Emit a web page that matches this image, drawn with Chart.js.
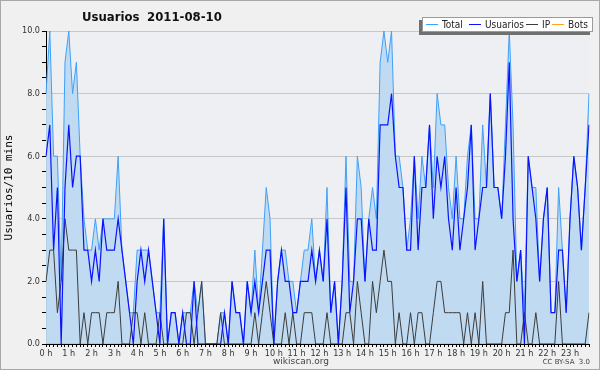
<!DOCTYPE html>
<html>
<head>
<meta charset="utf-8">
<script src="https://cdn.jsdelivr.net/npm/chart.js@4"></script>
<style>
  body { margin: 0; background: #f0f0f0; }
  #wrap { width: 600px; height: 370px; position: relative; }
</style>
</head>
<body>
<div id="wrap"><canvas id="chart" width="600" height="370"></canvas></div>
<script>
// hour labels on the x axis, one point every 10 minutes
const hourLabels = ['0 h','1 h','2 h','3 h','4 h','5 h','6 h','7 h','8 h','9 h','10 h','11 h',
  '12 h','13 h','14 h','15 h','16 h','17 h','18 h','19 h','20 h','21 h','22 h','23 h'];
const slotMinutes = ['00','10','20','30','40','50'];

const totalValues = [
  8,10,6,6,2,9, 10,8,9,6,4,3, 3,4,3,4,4,4, 4,6,3,2,1,1,
  3,3,3,3,2,1, 1,4,0,1,1,0, 1,1,1,2,1,2, 0,0,0,0,1,1,
  0,2,1,1,0,2, 1,3,1,3,5,4, 0,2,3,3,2,2, 1,2,3,3,4,2,
  3,2,5,1,2,0, 2,6,2,2,6,5, 2,4,5,4,9,10, 9,10,6,6,5,3,
  4,6,4,6,5,7, 5,8,7,7,5,4, 6,4,4,6,7,4, 4,7,5,8,5,5,
  4,7,10,7,2,3, 1,6,5,5,2,4, 5,1,1,5,3,1, 4,6,5,3,5,8
];
const usuariosValues = [
  6,7,3,5,0,5, 7,5,6,6,3,3, 2,3,2,4,3,3, 3,4,3,2,1,0,
  2,3,2,3,2,1, 0,4,0,1,1,0, 1,0,0,2,0,0, 0,0,0,0,0,1,
  0,2,1,1,0,2, 1,2,1,2,3,3, 0,2,3,2,2,1, 1,2,2,2,3,2,
  3,2,4,1,2,0, 2,5,1,2,4,4, 2,4,3,3,7,7, 7,8,6,5,5,3,
  3,6,3,5,5,7, 4,6,5,6,4,3, 5,3,4,5,7,3, 4,5,5,8,5,5,
  4,6,9,4,2,3, 0,6,5,4,2,4, 5,1,1,3,3,1, 4,6,5,3,5,7
];
const ipValues = [
  2,3,3,1,2,4, 3,3,3,0,1,0, 1,1,1,0,1,1, 1,2,0,0,0,1,
  1,0,1,0,0,0, 1,0,0,0,0,0, 0,1,1,0,1,2, 0,0,0,0,1,0,
  0,0,0,0,0,0, 0,1,0,1,2,1, 0,0,0,1,0,1, 0,0,1,1,1,0,
  0,0,1,0,0,0, 0,1,1,0,2,1, 0,0,2,1,2,3, 2,2,0,1,0,0,
  1,0,1,1,0,0, 1,2,2,1,1,1, 1,1,0,1,0,1, 0,2,0,0,0,0,
  0,1,1,3,0,0, 1,0,0,1,0,0, 0,0,0,2,0,0, 0,0,0,0,0,1
];
const botsValues = new Array(144).fill(0);

const timeLabels = [];
hourLabels.forEach((h, hi) => slotMinutes.forEach(m => timeLabels.push(hi + ':' + m)));

const colTotal = '#3fa0f8';
const colUsuarios = '#0a12ff';
const colIP = '#3c3c3c';
const colBots = '#ffa31a';

const frame = {
  id: 'frame',
  beforeDraw(chart) {
    const { ctx, chartArea: a } = chart;
    ctx.save();
    ctx.fillStyle = '#f0f0f0';
    ctx.fillRect(0, 0, chart.width, chart.height);
    ctx.strokeStyle = '#a8a8a8';
    ctx.lineWidth = 1;
    ctx.strokeRect(0.5, 0.5, chart.width - 1, chart.height - 1);
    ctx.fillStyle = '#edeff2';
    ctx.fillRect(a.left, a.top, a.right - a.left, a.bottom - a.top);
    ctx.restore();
  },
  afterDraw(chart) {
    const ctx = chart.ctx;
    ctx.save();
    // title
    ctx.fillStyle = '#111';
    ctx.font = 'bold 13px "DejaVu Sans Condensed", "DejaVu Sans"';
    ctx.textBaseline = 'alphabetic';
    ctx.fillText('Usuarios', 82, 21);
    ctx.fillText('2011-08-10', 147, 21);

    // legend box with shadow
    const bx = 422, by = 17, bw = 171, bh = 15;
    ctx.fillStyle = '#707070';
    ctx.fillRect(bx - 3, by + 3, bw, bh);
    ctx.fillStyle = '#ffffff';
    ctx.fillRect(bx, by, bw, bh);
    ctx.strokeStyle = '#9a9a9a';
    ctx.strokeRect(bx + 0.5, by + 0.5, bw - 1, bh - 1);
    const items = [
      ['Total', colTotal, 426],
      ['Usuarios', colUsuarios, 469],
      ['IP', colIP, 526],
      ['Bots', colBots, 552]
    ];
    ctx.font = '10px "DejaVu Sans Condensed", "DejaVu Sans"';
    ctx.textBaseline = 'middle';
    items.forEach(([txt, col, x]) => {
      ctx.strokeStyle = col;
      ctx.lineWidth = 1;
      ctx.beginPath();
      ctx.moveTo(x, 24.5);
      ctx.lineTo(x + 12, 24.5);
      ctx.stroke();
      ctx.fillStyle = '#222';
      ctx.fillText(txt, x + 16, 25);
    });

    // footer
    ctx.fillStyle = '#444';
    ctx.font = '9px "DejaVu Sans"';
    ctx.textAlign = 'center';
    ctx.fillText('wikiscan.org', 301, 362);
    ctx.font = '7px "DejaVu Sans"';
    ctx.textAlign = 'right';
    ctx.fillText('CC BY-SA  3.0', 590, 362);
    ctx.restore();
  }
};

new Chart(document.getElementById('chart'), {
  type: 'line',
  data: {
    labels: timeLabels,
    datasets: [
      {
        label: 'Total',
        data: totalValues,
        borderColor: colTotal,
        backgroundColor: 'rgba(190,217,240,0.95)',
        borderWidth: 1,
        fill: 'origin',
        order: 4
      },
      {
        label: 'Usuarios',
        data: usuariosValues,
        borderColor: colUsuarios,
        borderWidth: 1.2,
        fill: false,
        order: 1
      },
      {
        label: 'IP',
        data: ipValues,
        borderColor: colIP,
        borderWidth: 1,
        fill: false,
        order: 2
      },
      {
        label: 'Bots',
        data: botsValues,
        borderColor: colBots,
        borderWidth: 1,
        fill: false,
        order: 3
      }
    ]
  },
  options: {
    responsive: false,
    animation: false,
    elements: {
      point: { radius: 0 },
      line: { tension: 0 }
    },
    layout: {
      padding: { top: 31, right: 11, bottom: 0, left: 0 }
    },
    scales: {
      x: {
        z: 1,
        offset: false,
        afterFit: (scale) => { scale.height = 26; },
        grid: {
          display: true,
          drawOnChartArea: false,
          tickLength: 3,
          color: '#000'
        },
        border: { color: '#000', width: 1 },
        ticks: {
          autoSkip: false,
          maxRotation: 0,
          padding: 1,
          color: '#333',
          font: { size: 9, family: '"DejaVu Sans Condensed", "DejaVu Sans"' },
          callback: (val, idx) => idx % 6 === 0 ? hourLabels[idx / 6] : ''
        }
      },
      y: {
        min: 0,
        max: 10,
        afterFit: (scale) => { scale.width = 46; },
        grid: {
          color: (c) => (c.tick.value % 2 === 0 && c.tick.value > 0) ? '#c8c8c8' : 'rgba(0,0,0,0)',
          tickColor: '#000',
          tickLength: 4
        },
        border: { color: '#000', width: 1 },
        ticks: {
          stepSize: 0.5,
          autoSkip: false,
          padding: 2,
          color: '#333',
          font: { size: 9, family: '"DejaVu Sans Condensed", "DejaVu Sans"' },
          callback: (v) => v % 2 === 0 ? v.toFixed(1) : ''
        },
        title: {
          display: true,
          text: 'Usuarios/10 mins',
          color: '#000',
          font: { size: 11, family: '"DejaVu Sans Mono"' },
          padding: { top: 3, bottom: 0 }
        }
      }
    },
    plugins: {
      legend: { display: false },
      title: { display: false },
      tooltip: { enabled: false }
    }
  },
  plugins: [frame]
});
</script>
</body>
</html>
